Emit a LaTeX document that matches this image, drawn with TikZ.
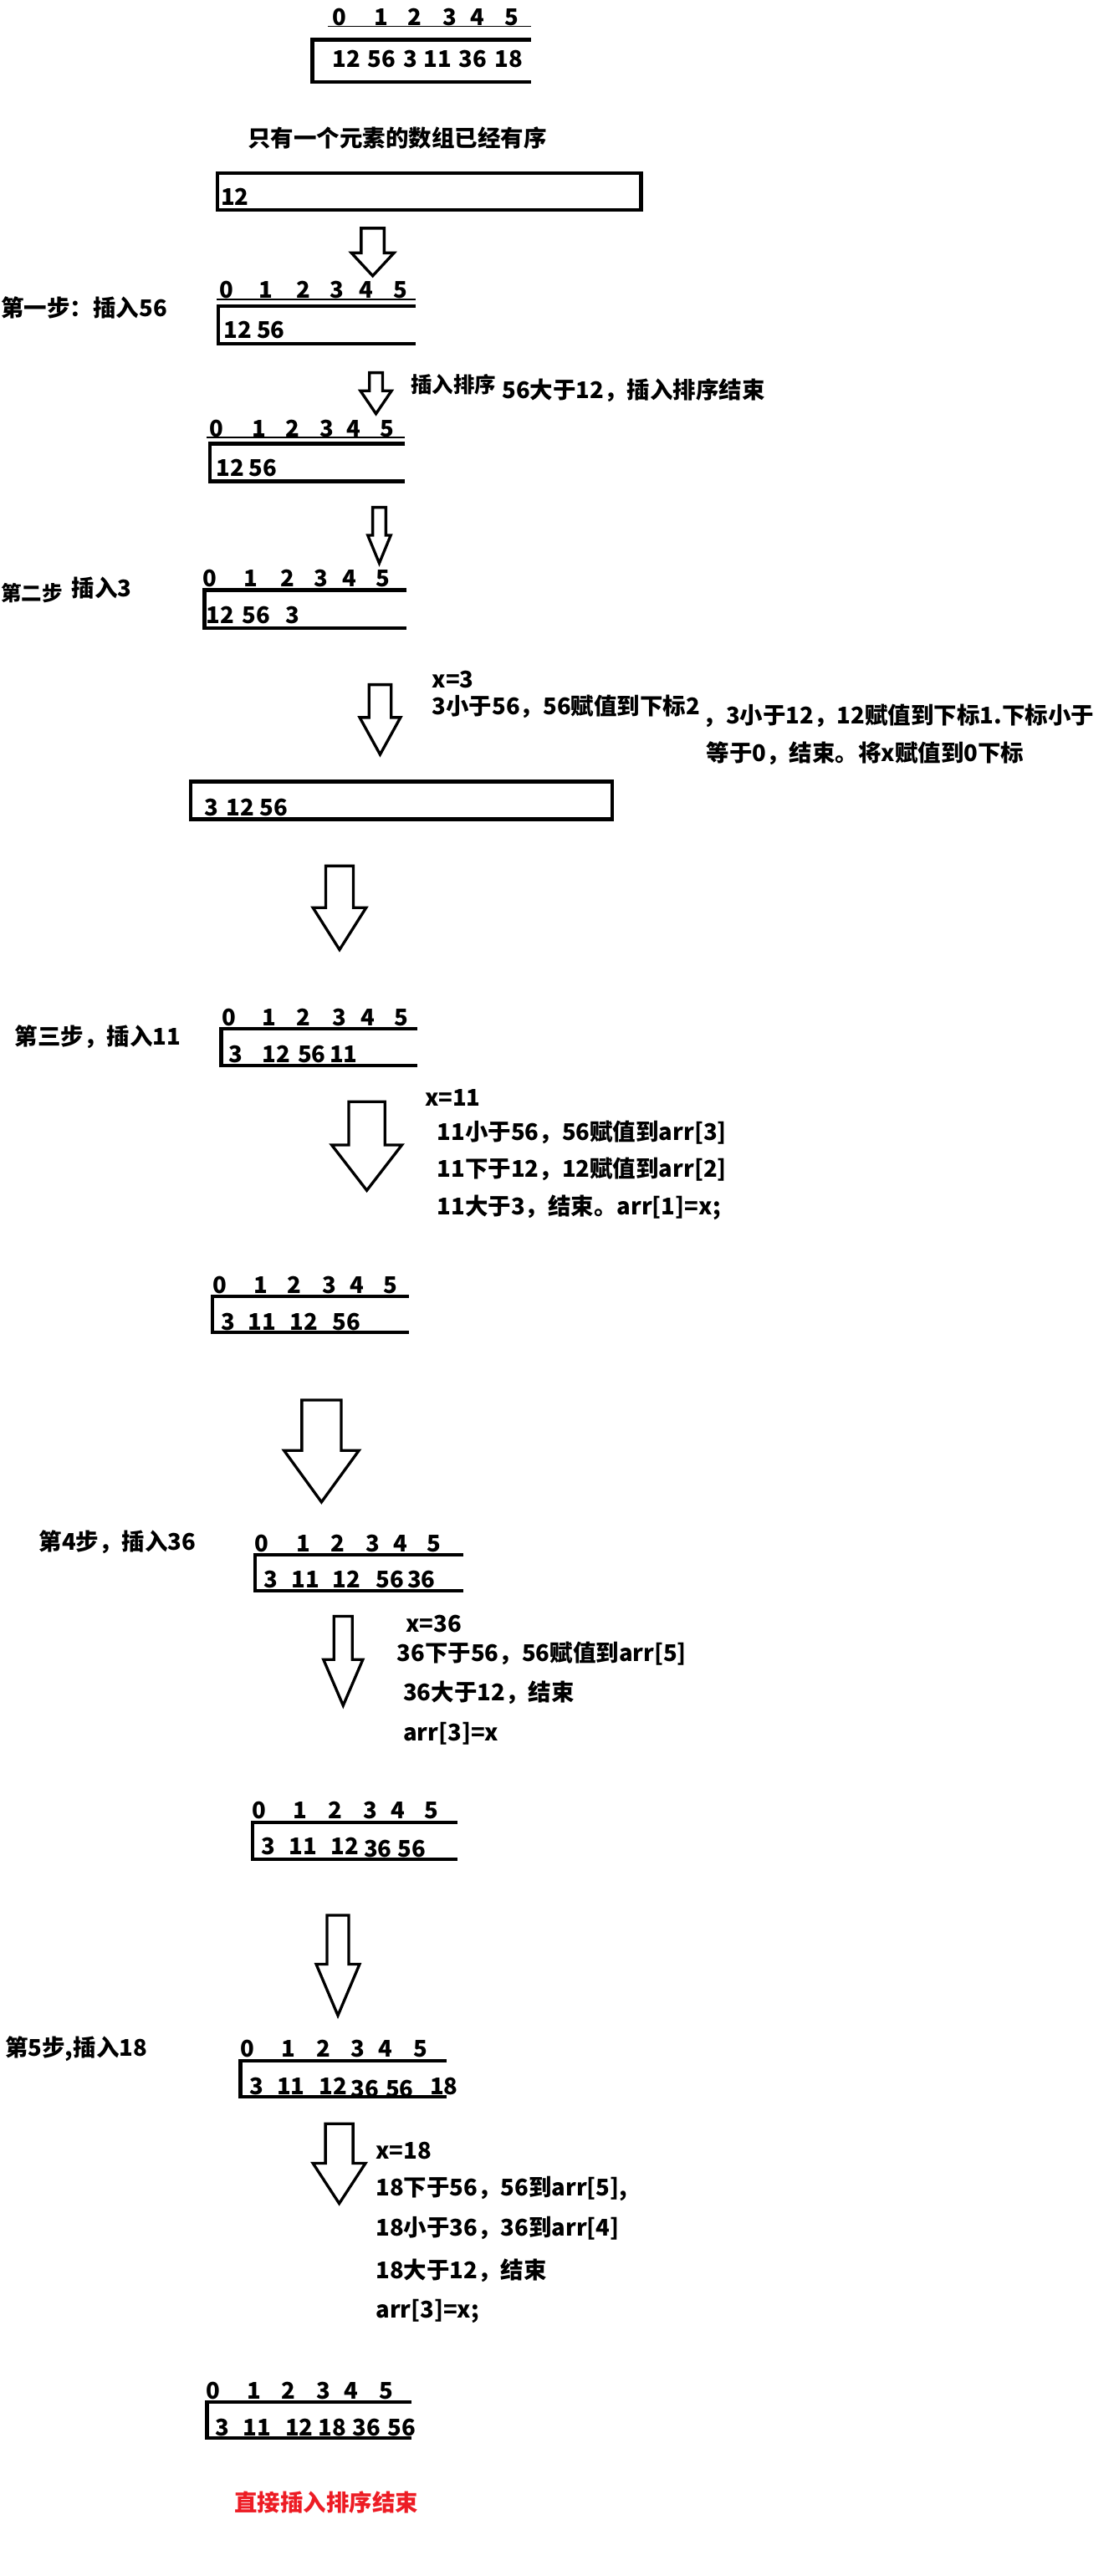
\documentclass[tikz,border=0pt]{standalone}
\usepackage{fontspec}
\setmainfont{Noto Sans CJK SC}
\definecolor{mspred}{HTML}{ED1C24}
\newcommand\blkarrow[6]{\draw[blk] (#1-#3,#2) -- (#1+#3,#2) -- (#1+#3,#4) -- (#1+#5,#4) -- (#1,#6) -- (#1-#5,#4) -- (#1-#3,#4) -- cycle;}
\newcommand\openbox[4]{\draw[boxline] (#4,#2) -- (#1,#2) -- (#1,#3) -- (#4,#3);}
\tikzset{
  fnt/.style={font=\bfseries\fontsize{14}{16}\selectfont},
  lbl/.style={fnt, inner sep=0pt, anchor=west},
  idx/.style={fnt, inner sep=0pt, anchor=base},
  val/.style={fnt, inner sep=0pt, anchor=base west},
  boxline/.style={line width=2.2pt, line join=miter},
  uline/.style={line width=0.8pt},
  blk/.style={draw, line width=1.7pt, fill=white, line join=miter}
}
\begin{document}
\begin{tikzpicture}[x=1pt,y=-1pt]
\fill[white] (0,0) rectangle (678,1568.9);
\useasboundingbox (0,0) rectangle (678,1568.9);

% ---- row 0: original array
\foreach \d/\x in {0/206.7,1/232.2,2/252.7,3/274,4/291,5/311.8}
  \node[idx] (r0i\d) at (\x,15.3) {\d};
\draw[uline] (199.7,16) -- (323.3,16);
\openbox{190.2}{24.2}{50}{323.3}
\foreach \n/\v/\x in {a/12/202.2,b/56/223.8,c/3/245.4,d/11/258,e/36/279.4,f/18/301}
  \node[val] (r0v\n) at (\x,40.8) {\v};

\node[lbl] (t1) at (150.8,84) {只有一个元素的数组已经有序};
\draw[boxline] (132.3,105.4) rectangle (390.5,128);
\node[val] (r1v) at (134.4,124.8) {12};

\blkarrow{227}{139}{7}{154}{13}{168}

% ---- step 1
\node[lbl] (s1) at (0.5,187.5) {第一步：插入56};
\foreach \d/\x in {0/138,1/162,2/185,3/205,4/223,5/244}
  \node[idx] (r2i\d) at (\x,181.7) {\d};
\draw[uline] (132,182.5) -- (253,182.5);
\openbox{133}{186.5}{209.5}{253}
\foreach \n/\v/\x in {a/12/136,b/56/156.2}
  \node[val] (r2v\n) at (\x,206) {\v};

\blkarrow{229}{227}{4}{238}{9.5}{252}
\node[lbl, font=\bfseries\fontsize{13}{15}\selectfont] (n1) at (250,234) {插入排序};
\node[lbl] (n2) at (305.6,238) {56大于12，插入排序结束};

\foreach \d/\x in {0/132,1/157.6,2/178,3/199,4/215.6,5/236}
  \node[idx] (r3i\d) at (\x,266) {\d};
\draw[uline] (125.7,266.5) -- (246.7,266.5);
\openbox{128}{270.3}{293.2}{246.7}
\foreach \n/\v/\x in {a/12/131.5,b/56/151.5}
  \node[val] (r3v\n) at (\x,290) {\v};

\blkarrow{231}{309}{4}{326}{7}{343}

% ---- step 2
\node[lbl, font=\bfseries\fontsize{12.5}{15}\selectfont] (s2a) at (0.5,361) {第二步};
\node[lbl] (s2b) at (43.5,358) {插入3};
\foreach \d/\x in {0/128,1/153,2/175,3/195.6,4/213,5/233}
  \node[idx] (r4i\d) at (\x,357.5) {\d};
\openbox{124.5}{359.3}{382.5}{247.7}
\foreach \n/\v/\x in {a/12/125.5,b/56/147.5,c/3/173.5}
  \node[val] (r4v\n) at (\x,379.5) {\v};

\node[lbl] (x3) at (263,414) {x=3};
\node[lbl] (x3a) at (263,430.6) {3小于56，56赋值到下标2};
\node[lbl] (x3b) at (428,436) {，3小于12，12赋值到下标1.下标小于};
\node[lbl] (x3c) at (430,459) {等于0，结束。将x赋值到0下标};
\blkarrow{231.5}{417}{6.75}{437}{12.4}{459.5}

\draw[boxline] (116,476) rectangle (373,499);
\foreach \n/\v/\x in {a/3/124.3,b/12/137.5,c/56/158.1}
  \node[val] (r5v\n) at (\x,496.7) {\v};

\blkarrow{206.8}{527.4}{8.4}{552.8}{16.2}{578.4}

% ---- step 3
\node[lbl] (s3) at (8.8,631.5) {第三步，插入11};
\foreach \d/\x in {0/139.6,1/164,2/185,3/206.6,4/224,5/244.5}
  \node[idx] (r6i\d) at (\x,625) {\d};
\openbox{134.7}{626.5}{649}{254.3}
\foreach \n/\v/\x in {a/3/139.1,b/12/159.5,c/56/181.2,d/11/200.5}
  \node[val] (r6v\n) at (\x,647.4) {\v};

\node[lbl] (x11) at (258.6,668.7) {x=11};
\node[lbl] (x11a) at (266,690) {11小于56，56赋值到arr[3]};
\node[lbl] (x11b) at (266,712) {11下于12，12赋值到arr[2]};
\node[lbl] (x11c) at (266,735.5) {11大于3，结束。arr[1]=x;};
\blkarrow{223.4}{671}{11}{697.3}{21.4}{725}

\foreach \d/\x in {0/133.7,1/158.7,2/179.3,3/200.8,4/217.5,5/238}
  \node[idx] (r7i\d) at (\x,787.5) {\d};
\openbox{129.5}{789.5}{811.6}{249}
\foreach \n/\v/\x in {a/3/134.5,b/11/150.9,c/12/176.5,d/56/202.5}
  \node[val] (r7v\n) at (\x,810) {\v};

\blkarrow{195.8}{852.7}{12}{883.4}{22.8}{914.8}

% ---- step 4
\node[lbl] (s4) at (23.5,939) {第4步，插入36};
\foreach \d/\x in {0/159.6,1/184.6,2/205.8,3/227,4/244,5/264.5}
  \node[idx] (r8i\d) at (\x,945) {\d};
\openbox{155.3}{947}{969}{282.2}
\foreach \n/\v/\x in {a/3/160.5,b/11/177.5,c/12/202.5,d/56/228.8,e/36/247.9}
  \node[val] (r8v\n) at (\x,967) {\v};

\node[lbl] (x36) at (247,989) {x=36};
\node[lbl] (x36a) at (241.6,1007) {36下于56，56赋值到arr[5]};
\node[lbl] (x36b) at (245.4,1031) {36大于12，结束};
\node[lbl] (x36c) at (245.4,1056) {arr[3]=x};
\blkarrow{209}{984.4}{5.6}{1010.7}{12}{1038.7}

\foreach \d/\x in {0/158,1/182.8,2/204.3,3/225.8,4/242.5,5/263}
  \node[idx] (r9i\d) at (\x,1107.8) {\d};
\openbox{153.9}{1109.8}{1132.3}{278.7}
\foreach \n/\v/\x/\y in {a/3/159.1/1129.4,b/11/175.9/1129.4,c/12/201.5/1129.4,d/36/221.5/1131,e/56/242/1131}
  \node[val] (r9v\n) at (\x,\y) {\v};

\blkarrow{205.8}{1166.5}{6.6}{1196.3}{13.2}{1227.5}

% ---- step 5
\node[lbl] (s5) at (3,1247.8) {第5步,插入18};
\foreach \d/\x in {0/150.8,1/175.8,2/197,3/218,4/235,5/256.3}
  \node[idx] (r10i\d) at (\x,1253) {\d};
\openbox{146.5}{1255}{1277}{272}
\foreach \n/\v/\x/\y in {a/3/151.8/1275.6,b/11/168.5/1275.6,c/12/194.1/1275.6,d/36/213.5/1277.5,e/56/234.7/1277.5,f/18/261.7/1275.6}
  \node[val] (r10v\n) at (\x,\y) {\v};

\node[lbl] (x18) at (228.7,1310) {x=18};
\node[lbl] (x18a) at (228.7,1333) {18下于56，56到arr[5],};
\node[lbl] (x18b) at (228.7,1357) {18小于36，36到arr[4]};
\node[lbl] (x18c) at (228.7,1383) {18大于12，结束};
\node[lbl] (x18d) at (228.7,1407.7) {arr[3]=x;};
\blkarrow{206.6}{1293.4}{8.4}{1317.5}{16}{1342}

\foreach \d/\x in {0/130,1/154.9,2/175.8,3/197,4/214,5/235.2}
  \node[idx] (r11i\d) at (\x,1461.3) {\d};
\openbox{126}{1463}{1484.7}{250.5}
\foreach \n/\v/\x in {a/3/130.9,b/11/148,c/12/173.5,d/18/193.5,e/36/214.7,f/56/236.1}
  \node[val] (r11v\n) at (\x,1483.5) {\v};

\node[lbl, text=mspred] (fin) at (142.6,1524) {直接插入排序结束};
\end{tikzpicture}
\end{document}
